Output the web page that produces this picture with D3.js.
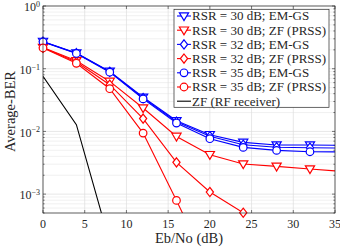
<!DOCTYPE html>
<html><head><meta charset="utf-8">
<script src="https://cdn.jsdelivr.net/npm/d3@7"></script>
<style>
html,body{margin:0;padding:0;background:#fff;}
</style></head>
<body><svg id="c" width="340" height="248"></svg>
<script>
const ebno = [0, 4, 8, 12, 16, 20, 24, 28, 32, 36];
const emgs30 = [0.272, 0.178, 0.0906, 0.0350, 0.0148, 0.00886, 0.00668, 0.00607, 0.00607, 0.0060];
const zf30   = [0.218, 0.134, 0.0627, 0.0236, 0.00832, 0.00425, 0.00302, 0.00277, 0.00251, 0.0023];
const emgs32 = [0.270, 0.177, 0.0895, 0.0340, 0.0143, 0.00838, 0.00614, 0.00560, 0.00550, 0.0054];
const zf32   = [0.216, 0.128, 0.0556, 0.0160, 0.00321, 0.00108, 0.000505, 0.00022, null, null];
const emgs35 = [0.268, 0.175, 0.0880, 0.0330, 0.0136, 0.00765, 0.00556, 0.00498, 0.00474, 0.0047];
const zf35   = [0.214, 0.122, 0.0480, 0.0094, 0.000794, 0.00006, null, null, null, null];
const zfRF   = [0.0754, 0.0128, 0.00017, null, null, null, null, null, null, null];
const seriesNames = ["RSR = 30 dB; EM-GS","RSR = 30 dB; ZF (PRSS)","RSR = 32 dB; EM-GS","RSR = 32 dB; ZF (PRSS)","RSR = 35 dB; EM-GS","RSR = 35 dB; ZF (PRSS)","ZF (RF receiver)"];
const xTicks = [0, 5, 10, 15, 20, 25, 30, 35];
const yTickExps = [0, -1, -2, -3];

const series = [
  {name: seriesNames[0], vals: emgs30, color: "#0000ff", marker: "tri"},
  {name: seriesNames[1], vals: zf30,   color: "#ff0000", marker: "tri"},
  {name: seriesNames[2], vals: emgs32, color: "#0000ff", marker: "dia"},
  {name: seriesNames[3], vals: zf32,   color: "#ff0000", marker: "dia"},
  {name: seriesNames[4], vals: emgs35, color: "#0000ff", marker: "circ"},
  {name: seriesNames[5], vals: zf35,   color: "#ff0000", marker: "circ"},
  {name: seriesNames[6], vals: zfRF,   color: "#000000", marker: null}
];

const FONT = '"Liberation Serif"';
const svg = d3.select("#c");
const TXT = "#262626";
const L = 43, R = 335, T = 6, B = 213;
const x = d3.scaleLinear().domain([0, 35]).range([L, R]);
const y = d3.scaleLog().domain([5e-4, 1]).range([B, T]);

// grid
const g = svg.append("g");
const minorVals = [];
for (let e = -4; e < 0; e++) for (let m = 2; m <= 9; m++) { const v = m * Math.pow(10, e); if (v >= 5e-4 && v <= 1) minorVals.push(v); }
g.selectAll(".mg").data(minorVals).enter().append("line")
  .attr("x1", L).attr("x2", R).attr("y1", d => y(d)).attr("y2", d => y(d))
  .attr("stroke", "#e8e8e8").attr("stroke-width", 0.6);
g.selectAll(".yg").data(yTickExps).enter().append("line")
  .attr("x1", L).attr("x2", R).attr("y1", d => y(Math.pow(10, d))).attr("y2", d => y(Math.pow(10, d)))
  .attr("stroke", "#dcdcdc").attr("stroke-width", 0.7);
g.selectAll(".xg").data(xTicks).enter().append("line")
  .attr("y1", T).attr("y2", B).attr("x1", d => x(d)).attr("x2", d => x(d))
  .attr("stroke", "#dcdcdc").attr("stroke-width", 0.7);

// ticks (inward) on all sides
const tk = svg.append("g").attr("stroke", TXT).attr("stroke-width", 0.6);
xTicks.forEach(v => {
  tk.append("line").attr("x1", x(v)).attr("x2", x(v)).attr("y1", B).attr("y2", B - 3);
  tk.append("line").attr("x1", x(v)).attr("x2", x(v)).attr("y1", T).attr("y2", T + 3);
});
yTickExps.forEach(e => {
  const yy = y(Math.pow(10, e));
  tk.append("line").attr("x1", L).attr("x2", L + 3).attr("y1", yy).attr("y2", yy);
  tk.append("line").attr("x1", R).attr("x2", R - 3).attr("y1", yy).attr("y2", yy);
});
minorVals.forEach(v => {
  const yy = y(v);
  tk.append("line").attr("x1", L).attr("x2", L + 1.6).attr("y1", yy).attr("y2", yy);
  tk.append("line").attr("x1", R).attr("x2", R - 1.6).attr("y1", yy).attr("y2", yy);
});

// clip
svg.append("clipPath").attr("id", "clip").append("rect").attr("x", L).attr("y", T).attr("width", R - L).attr("height", B - T);

const line = d3.line().defined(d => d[1] != null).x(d => x(d[0])).y(d => y(d[1]));
const plot = svg.append("g");
function drawMarker(sel, type, color, cx, cy) {
  if (type === "tri") {
    sel.append("path").attr("d", `M${cx - 4.6},${cy - 3.2} L${cx + 4.6},${cy - 3.2} L${cx},${cy + 4.6} Z`)
      .attr("fill", "#fff").attr("stroke", color).attr("stroke-width", 1.2);
  } else if (type === "dia") {
    sel.append("path").attr("d", `M${cx},${cy - 4.6} L${cx + 3.6},${cy} L${cx},${cy + 4.6} L${cx - 3.6},${cy} Z`)
      .attr("fill", "#fff").attr("stroke", color).attr("stroke-width", 1.2);
  } else if (type === "circ") {
    sel.append("circle").attr("cx", cx).attr("cy", cy).attr("r", 3.8)
      .attr("fill", "#fff").attr("stroke", color).attr("stroke-width", 1.2);
  }
}
series.forEach(s => {
  const pts = ebno.map((e, i) => [e, s.vals[i]]);
  plot.append("path").attr("d", line(pts)).attr("clip-path", "url(#clip)")
    .attr("fill", "none").attr("stroke", s.color).attr("stroke-width", 1.1);
  if (s.marker) {
    pts.forEach(p => {
      if (p[1] != null && p[0] <= 35 && p[1] >= 4.9e-4) drawMarker(plot, s.marker, s.color, x(p[0]), y(p[1]));
    });
  }
});

// axes box
svg.append("rect").attr("x", L).attr("y", T).attr("width", R - L).attr("height", B - T)
  .attr("fill", "none").attr("stroke", TXT).attr("stroke-width", 0.7);

// tick labels
svg.selectAll(".xl").data(xTicks).enter().append("text")
  .attr("x", d => x(d)).attr("y", 228).attr("text-anchor", "middle").attr("font-size", 12).attr("fill", TXT)
  .style("font-family", FONT).text(d => d);
yTickExps.forEach(e => {
  const t = svg.append("text").attr("x", 40).attr("y", y(Math.pow(10, e)) + 5.2).attr("text-anchor", "end")
    .attr("font-size", 12).attr("fill", TXT).style("font-family", FONT);
  t.append("tspan").text("10");
  t.append("tspan").attr("dy", -4.2).attr("font-size", 8).text(e === 0 ? "0" : "\u2212" + Math.abs(e));
});

// axis labels
svg.append("text").attr("x", (L + R) / 2).attr("y", 243).attr("text-anchor", "middle").attr("font-size", 14.5)
  .attr("fill", TXT).style("font-family", FONT).text("Eb/No (dB)");
svg.append("text").attr("transform", `translate(15,${(T + B) / 2 + 2}) rotate(-90)`).attr("text-anchor", "middle")
  .attr("font-size", 14.5).attr("fill", TXT).style("font-family", FONT).text("Average-BER");

// legend
const lg = svg.append("g");
const lx = 174, ly = 9.3, lw = 155, lh = 98;
lg.append("rect").attr("x", lx).attr("y", ly).attr("width", lw).attr("height", lh)
  .attr("fill", "#fff").attr("stroke", TXT).attr("stroke-width", 0.7);
series.forEach((s, i) => {
  const cy = 16 + i * 14.2;
  lg.append("line").attr("x1", lx + 3).attr("x2", lx + 17).attr("y1", cy).attr("y2", cy)
    .attr("stroke", s.color).attr("stroke-width", 1.1);
  if (s.marker) drawMarker(lg, s.marker, s.color, lx + 10, cy);
  lg.append("text").attr("x", lx + 18).attr("y", cy + 4.3).attr("font-size", 13).attr("fill", TXT)
    .style("font-family", FONT).text(s.name);
});
</script></body></html>
